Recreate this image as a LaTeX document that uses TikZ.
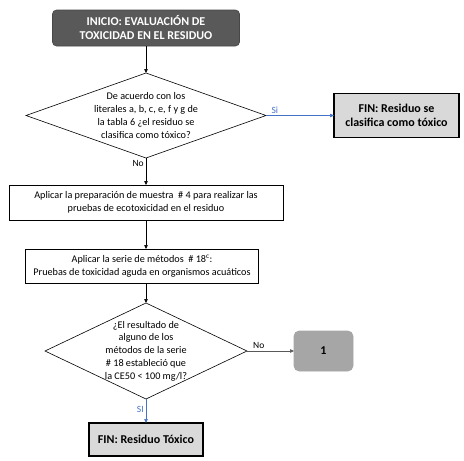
\documentclass[tikz,border=0pt]{standalone}
\usepackage{fontspec}
\setmainfont{Carlito}
\usepackage{xcolor}
\usepackage{tikz}
\usetikzlibrary{positioning,arrows.meta,shapes.geometric}

\definecolor{startgray}{HTML}{595959}
\definecolor{endgray}{HTML}{D9D9D9}
\definecolor{refgray}{HTML}{A6A6A6}
\definecolor{siblue}{HTML}{4472C4}

\begin{document}
\begin{tikzpicture}[
    font=\fontsize{10.2}{12.8}\selectfont,
    flow_box/.style={draw, outer sep=0pt, inner sep=3pt, align=center, line width=0.6pt},
    start_box/.style={flow_box, rounded corners=4pt, fill=startgray, draw=startgray!80!black,
        text=white, font=\fontsize{12}{14}\selectfont\bfseries, minimum width=187pt, minimum height=36pt},
    step_box/.style={flow_box, fill=white},
    end_box/.style={flow_box, fill=endgray, line width=1.1pt, font=\fontsize{12}{14.5}\selectfont\bfseries},
    ref_box/.style={flow_box, rounded corners=5pt, fill=refgray, draw=refgray,
        font=\fontsize{12}{14}\selectfont\bfseries, minimum width=59pt, minimum height=40pt},
    decision/.style={diamond, draw, outer sep=0pt, align=center, line width=0.6pt},
    arrow/.style={-{Triangle[length=4pt,width=3.5pt]}, line width=0.6pt},
    si_arrow/.style={arrow, draw=siblue},
    lbl/.style={font=\fontsize{9.5}{11}\selectfont, inner sep=2pt}
]
\useasboundingbox (0,0) rectangle (464pt,-461pt);

\node (inicio) [start_box] at (146pt,-28pt)
    {INICIO: EVALUACIÓN DE\\TOXICIDAD EN EL RESIDUO};

\node (literales) [decision, below=27pt of inicio, inner sep=-3pt, aspect=2.8,
    minimum width=240pt, minimum height=85pt]
    {De acuerdo con los\\literales a, b, c, e, f y g de\\la tabla 6 ¿el residuo se\\clasifica como tóxico?};

\node (fin_toxico) [end_box, right=68pt of literales, minimum width=125pt, minimum height=44pt]
    {FIN: Residuo se\\clasifica como tóxico};

\node (muestra) [step_box, below=27pt of literales, minimum width=274pt, minimum height=35pt]
    {Aplicar la preparación de muestra \ \# 4 para realizar las\\pruebas de ecotoxicidad en el residuo};

\node (metodos) [step_box, below=29pt of muestra, xshift=-4pt, minimum width=233pt, minimum height=34pt]
    {Aplicar la serie de métodos \ \# 18\textsuperscript{c}:\\Pruebas de toxicidad aguda en organismos acuáticos};

\node (resultado) [decision, below=20pt of metodos.south -| literales.south, anchor=north, inner sep=-5pt, aspect=2.1,
    minimum width=202pt, minimum height=96pt]
    {¿El resultado de\\alguno de los\\métodos de la serie\\\# 18 estableció que\\la CE50 < 100 mg/l?};

\node (uno) [ref_box, right=47pt of resultado] {1};

\node (fin_residuo) [end_box, below=24pt of resultado, minimum width=114pt, minimum height=33pt]
    {FIN: Residuo Tóxico};

\draw [arrow] (inicio) -- (literales);
\draw [si_arrow] (literales) -- node[lbl, above, pos=0.13, text=siblue] {Si} (fin_toxico);
\draw [arrow] (literales) -- node[lbl, left, pos=0.2] {No} (muestra);
\draw [arrow] (muestra.south -| literales.south) -- (metodos.north -| literales.south);
\draw [arrow] (metodos.south -| literales.south) -- (resultado);
\draw [arrow, draw=startgray] (resultado) -- node[lbl, above, pos=0.25] {No} (uno);
\draw [si_arrow] (resultado) -- node[lbl, left, pos=0.42, text=siblue] {SI} (fin_residuo);

\end{tikzpicture}
\end{document}
